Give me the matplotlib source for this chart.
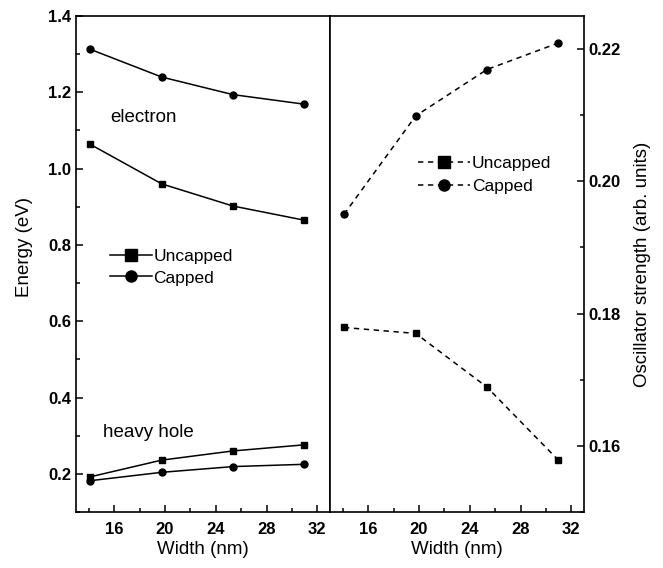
import matplotlib
matplotlib.use("Agg")
import matplotlib.pyplot as plt
from matplotlib.ticker import MultipleLocator, FormatStrFormatter

plt.rcParams['font.family'] = ['Liberation Sans', 'DejaVu Sans']

width_nm = [14.1, 19.75, 25.35, 30.95]
e_uncapped = [1.064, 0.960, 0.902, 0.865]
e_capped = [1.313, 1.240, 1.194, 1.169]
hh_uncapped = [0.192, 0.236, 0.260, 0.276]
hh_capped = [0.182, 0.204, 0.219, 0.225]
osc_uncapped = [0.1779, 0.1770, 0.1689, 0.1579]
osc_capped = [0.1950, 0.2099, 0.2169, 0.2209]

fig = plt.figure(figsize=(6.63, 5.68), dpi=100)
axL = fig.add_axes([76/663, 1-512/568, 254/663, 496/568])
axR = fig.add_axes([330/663, 1-512/568, 254/663, 496/568])

lw = 1.1
ms = 5
kw_sq = dict(color='black', marker='s', ms=ms, lw=lw)
kw_ci = dict(color='black', marker='o', ms=ms, lw=lw)

l1, = axL.plot(width_nm, e_uncapped, **kw_sq, label='Uncapped')
l2, = axL.plot(width_nm, e_capped, **kw_ci, label='Capped')
axL.plot(width_nm, hh_uncapped, **kw_sq)
axL.plot(width_nm, hh_capped, **kw_ci)

dash = (0, (3.5, 3))
r1, = axR.plot(width_nm, osc_uncapped, ls=dash, **kw_sq, label='Uncapped')
r2, = axR.plot(width_nm, osc_capped, ls=dash, **kw_ci, label='Capped')

for ax in (axL, axR):
    ax.set_xlim(13, 33)
    ax.xaxis.set_major_locator(MultipleLocator(4))
    ax.xaxis.set_minor_locator(MultipleLocator(2))
    ax.set_xlabel('Width (nm)', fontsize=13.5, labelpad=3)
    for s in ax.spines.values():
        s.set_linewidth(1.2)
    ax.tick_params(which='both', direction='in', labelsize=12, width=1.1)
    ax.tick_params(which='major', length=5)
    ax.tick_params(which='minor', length=3)
    ax.tick_params(axis='x', pad=7)

axL.set_ylim(0.1, 1.4)
axL.yaxis.set_major_locator(MultipleLocator(0.2))
axL.yaxis.set_minor_locator(MultipleLocator(0.1))
axL.yaxis.set_major_formatter(FormatStrFormatter('%.1f'))
axL.tick_params(which='both', left=True, right=False, top=False)
axL.set_ylabel('Energy (eV)', fontsize=13.5)
axL.yaxis.set_label_coords(-0.17, 0.534)

axR.set_ylim(0.15, 0.225)
axR.yaxis.set_major_locator(MultipleLocator(0.02))
axR.yaxis.set_minor_locator(MultipleLocator(0.01))
axR.yaxis.set_major_formatter(FormatStrFormatter('%.2f'))
axR.yaxis.tick_right()
axR.yaxis.set_label_position('right')
axR.tick_params(which='both', left=False, right=True, top=False)
axR.set_ylabel('Oscillator strength (arb. units)', fontsize=13.5)
axR.yaxis.set_label_coords(1.196, 0.5)

for ax in (axL, axR):
    for lab in ax.get_xticklabels() + ax.get_yticklabels():
        lab.set_fontweight('bold')

axL.text(0.135, 0.795, 'electron', transform=axL.transAxes, fontsize=13.5, va='center')
axL.text(0.105, 0.16, 'heavy hole', transform=axL.transAxes, fontsize=13.5, va='center')

axL.legend(handles=[l1, l2], loc='upper left', bbox_to_anchor=(0.134, 0.530),
           frameon=False, fontsize=12.5, markerscale=1.6, handlelength=2.4,
           handletextpad=0.1, labelspacing=0.35, borderaxespad=0, borderpad=0)
axR.legend(handles=[r1, r2], loc='upper left', bbox_to_anchor=(0.346, 0.718),
           frameon=False, fontsize=12.5, markerscale=1.6, handlelength=3.0,
           handletextpad=0.1, labelspacing=0.45, borderaxespad=0, borderpad=0)

fig.savefig('out.png', dpi=100)
